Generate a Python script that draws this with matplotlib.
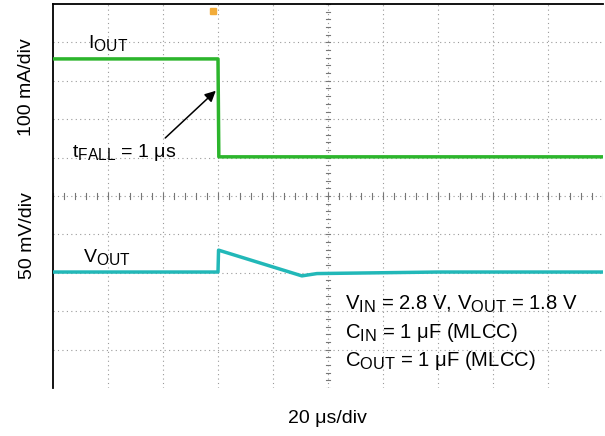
import numpy as np
import matplotlib.pyplot as plt
import matplotlib._mathtext as mtext

plt.rcParams['font.family'] = ['Liberation Sans', 'DejaVu Sans']
plt.rcParams['mathtext.fontset'] = 'custom'
plt.rcParams['mathtext.rm'] = 'Liberation Sans'
plt.rcParams['mathtext.it'] = 'Liberation Sans'
# subscripts in the original are a bit larger than mathtext default
mtext.SHRINK_FACTOR = 0.8

# scope screen: x in microseconds (20 us/div), y in screen divisions
t_iout = [0, 60, 60.3, 200]
iout_div = [8.57, 8.57, 6.02, 6.02]

t_vout = [0, 60, 60.2, 90.5, 96, 140, 200]
vout_div = [3.02, 3.02, 3.59, 2.92, 2.98, 3.02, 3.02]

US_PER_DIV = 20
N_XDIV = 10
N_YDIV = 10

GREEN = '#2cb52c'
CYAN = '#22b8b8'


def draw_graticule(ax):
    for k in range(1, N_XDIV):
        ax.axvline(k * US_PER_DIV, color='#9a9a9a', lw=0.8, ls=(0, (1, 3)), zorder=1)
    for k in range(1, N_YDIV):
        ax.axhline(k, color='#9a9a9a', lw=0.8, ls=(0, (1, 3)), zorder=1)
    # minor ticks on the centre cross
    xc = N_XDIV / 2 * US_PER_DIV
    yc = N_YDIV / 2
    for xm in np.arange(0, N_XDIV * US_PER_DIV + 0.01, US_PER_DIV / 5):
        ax.plot([xm, xm], [yc - 0.08, yc + 0.08], color='#777777', lw=0.8, zorder=1)
    for ym in np.arange(0, N_YDIV + 0.01, 0.2):
        ax.plot([xc - 0.7, xc + 0.7], [ym, ym], color='#777777', lw=0.8, zorder=1)


def main():
    fig = plt.figure(figsize=(6.05, 4.36), dpi=100)
    ax = fig.add_axes([53 / 605, 48 / 436, 550 / 605, 384 / 436])
    ax.set_xlim(0, N_XDIV * US_PER_DIV)
    ax.set_ylim(0, N_YDIV)
    ax.set_xticks([])
    ax.set_yticks([])
    for side in ['right', 'bottom']:
        ax.spines[side].set_visible(False)
    ax.spines['left'].set_linewidth(1.3)
    ax.spines['top'].set_linewidth(1.3)

    draw_graticule(ax)

    ax.plot(t_iout, iout_div, color=GREEN, lw=2.5, zorder=3)
    ax.plot(t_vout, vout_div, color=CYAN, lw=2.5, zorder=3)

    # trigger marker
    ax.plot([58.2], [9.82], marker='s', ms=4, color='#f2ac3a', clip_on=False, zorder=4)

    fs = 14
    ax.text(12.7, 8.85, r'I$_{\mathrm{OUT}}$', fontsize=fs, va='baseline')
    ax.text(7.0, 6.02, r't$_{\mathrm{FALL}}$ = 1 μs', fontsize=fs, va='baseline')
    ax.annotate('', xy=(59.2, 7.74), xytext=(40.8, 6.51),
                arrowprops=dict(arrowstyle='-|>', color='black', lw=1.1,
                                mutation_scale=16, shrinkA=0, shrinkB=0))
    ax.text(11.0, 3.28, r'V$_{\mathrm{OUT}}$', fontsize=fs, va='baseline')
    fb = 14.6
    ax.text(106.2, 2.03, r'V$_{\mathrm{IN}}$ = 2.8 V, V$_{\mathrm{OUT}}$ = 1.8 V', fontsize=fb, va='baseline')
    ax.text(106.2, 1.30, r'C$_{\mathrm{IN}}$ = 1 μF (MLCC)', fontsize=fb, va='baseline')
    ax.text(106.2, 0.57, r'C$_{\mathrm{OUT}}$ = 1 μF (MLCC)', fontsize=fb, va='baseline')

    fig.text(27 / 605, 1 - 87 / 436, '100 mA/div', rotation=90, fontsize=fs, ha='center', va='center')
    fig.text(27 / 605, 1 - 236 / 436, '50 mV/div', rotation=90, fontsize=fs, ha='center', va='center')
    fig.text(327 / 605, 1 - 418 / 436, '20 μs/div', fontsize=fs, ha='center', va='center')

    fig.savefig('out.png', dpi=100)


if __name__ == '__main__':
    main()
